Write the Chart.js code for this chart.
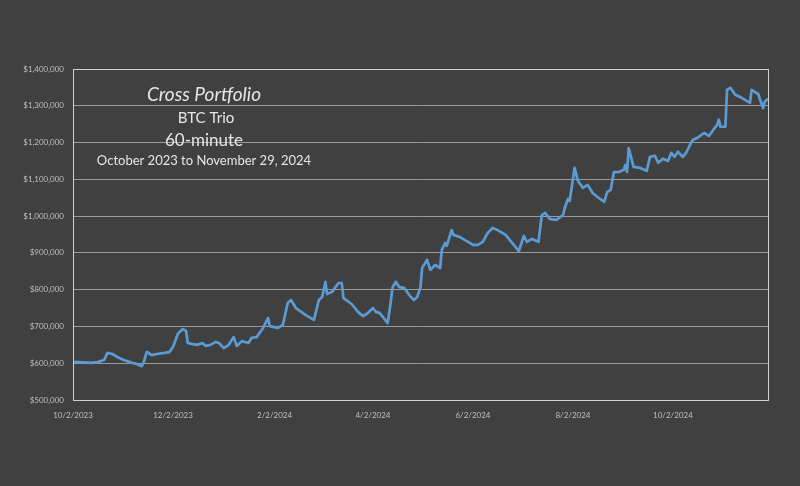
<!DOCTYPE html>
<html>
<head>
<meta charset="utf-8">
<script src="https://cdn.jsdelivr.net/npm/chart.js@4"></script>
<style>
  html, body { margin: 0; padding: 0; background: #404040; }
  #wrap { width: 800px; height: 486px; }
</style>
</head>
<body>
<div id="wrap"><canvas id="chart" width="800" height="486"></canvas></div>
<script>
// days since 10/2/2023
const dayOffsets = [
  0, 4, 11, 15, 19, 21, 24, 27, 31, 36, 39, 42, 43, 45, 48, 51, 56, 59, 61, 64,
  65, 67, 69, 70, 73, 76, 79, 81, 84, 87, 89, 92, 95, 98, 100, 103, 107, 109, 112, 116,
  119, 120, 125, 128, 131, 133, 136, 142, 147, 150, 152, 154, 155, 158, 162, 164, 165, 170, 174, 177,
  180, 183, 185, 187, 189, 192, 194, 195, 197, 199, 202, 205, 208, 210, 212, 213, 216, 218, 221, 224,
  225, 227, 228, 231, 232, 236, 241, 244, 247, 250, 253, 256, 259, 264, 267, 270, 272, 275, 277, 280,
  284, 286, 288, 291, 295, 299, 300, 302, 303, 306, 308, 311, 314, 317, 320, 324, 326, 328, 330, 333,
  336, 337, 338, 339, 342, 346, 350, 352, 355, 357, 360, 363, 365, 367, 369, 372, 374, 378, 381, 385,
  388, 391, 393, 394, 395, 398, 399, 401, 404, 407, 410, 413, 414, 418, 419, 421, 422, 424
];
// portfolio value in $1,000
const portfolioValues = [
  603, 603, 601, 603, 609, 628, 625, 617, 609, 601, 598, 592, 601, 631, 622, 625, 628, 631, 644, 680,
  685, 693, 688, 655, 652, 650, 655, 647, 650, 658, 655, 641, 650, 671, 647, 660, 655, 669, 671, 696,
  723, 701, 696, 704, 764, 772, 750, 731, 718, 772, 780, 821, 788, 794, 818, 818, 777, 761, 739, 728,
  737, 750, 739, 737, 726, 709, 772, 807, 821, 807, 805, 786, 772, 780, 807, 859, 881, 854, 867, 859,
  908, 927, 919, 962, 949, 943, 930, 922, 922, 930, 954, 968, 962, 949, 932, 916, 905, 946, 930, 938,
  930, 1003, 1009, 992, 990, 1003, 1022, 1047, 1041, 1131, 1096, 1077, 1085, 1063, 1052, 1039, 1066, 1071, 1120, 1120,
  1126, 1139, 1120, 1185, 1134, 1131, 1123, 1161, 1164, 1145, 1156, 1150, 1172, 1161, 1175, 1161, 1172, 1207, 1213, 1226,
  1218, 1237, 1248, 1262, 1243, 1243, 1343, 1349, 1330, 1324, 1316, 1308, 1343, 1332, 1319, 1294, 1311, 1319
];
const tickDays = [0, 61, 123, 183, 244, 305, 366];
const tickLabels = ["10/2/2023", "12/2/2023", "2/2/2024", "4/2/2024", "6/2/2024", "8/2/2024", "10/2/2024"];
const titleLines = ["Cross Portfolio", "BTC Trio", "60-minute", "October 2023 to November 29, 2024"];

const points = dayOffsets.map((d, i) => ({ x: d, y: portfolioValues[i] * 1000 }));

// frame around the plot area plus the title text inside it
const framePlugin = {
  id: "frame",
  afterDatasetsDraw(chart) {
    const { ctx, chartArea: a } = chart;
    ctx.save();
    ctx.strokeStyle = "#d0d0d0";
    ctx.lineWidth = 1;
    ctx.strokeRect(Math.round(a.left) + 0.5, Math.round(a.top) + 0.5, Math.round(a.right - a.left), Math.round(a.bottom - a.top));
    ctx.fillStyle = "#e6e6e6";
    ctx.textAlign = "center";
    ctx.textBaseline = "middle";
    ctx.font = "italic 19px Lato";
    ctx.fillText(titleLines[0], 204, 95);
    ctx.font = "15px Lato";
    ctx.fillText(titleLines[1], 206, 118);
    ctx.font = "17px Lato";
    ctx.fillText(titleLines[2], 204, 141);
    ctx.font = "13px Lato";
    ctx.fillText(titleLines[3], 204, 161);
    ctx.restore();
  }
};

new Chart(document.getElementById("chart"), {
  type: "line",
  data: {
    datasets: [{
      data: points,
      borderColor: "#5b9bd5",
      borderWidth: 2.7,
      pointRadius: 0,
      tension: 0,
      borderJoinStyle: "round",
      fill: false
    }]
  },
  options: {
    responsive: false,
    animation: false,
    layout: { padding: { top: 69, right: 32, left: 0, bottom: 0 } },
    plugins: { legend: { display: false }, tooltip: { enabled: false } },
    scales: {
      x: {
        type: "linear",
        min: 0,
        max: 424,
        afterBuildTicks: (scale) => { scale.ticks = tickDays.map(v => ({ value: v })); },
        afterFit: (scale) => { scale.height = 86; },
        grid: { display: false, drawTicks: false },
        border: { display: false },
        ticks: {
          color: "#bfbfbf",
          font: { family: "Lato", size: 8 },
          padding: 11,
          maxRotation: 0,
          callback: (v) => tickLabels[tickDays.indexOf(v)]
        }
      },
      y: {
        min: 500000,
        max: 1400000,
        afterFit: (scale) => { scale.width = 73; },
        grid: { color: "#9a9a9a", lineWidth: 1, drawTicks: false },
        border: { display: false },
        ticks: {
          stepSize: 100000,
          color: "#bfbfbf",
          font: { family: "Lato", size: 8 },
          padding: 9,
          callback: (v) => "$" + v.toLocaleString("en-US")
        }
      }
    }
  },
  plugins: [framePlugin]
});
</script>
</body>
</html>
